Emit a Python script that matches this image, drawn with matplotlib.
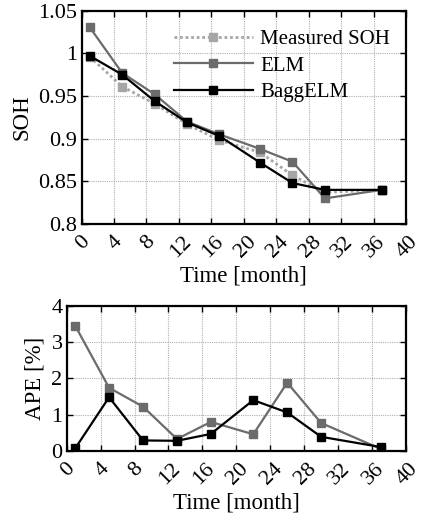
import matplotlib
matplotlib.use("Agg")
import matplotlib.pyplot as plt
import matplotlib.transforms as mtransforms
import numpy as np

plt.rcParams['font.family'] = ['Liberation Serif', 'DejaVu Serif']
plt.rcParams['mathtext.fontset'] = 'stix'

time = [1, 5, 9, 13, 17, 22, 26, 30, 37]
soh_measured = [0.996, 0.961, 0.941, 0.917, 0.898, 0.884, 0.857, 0.837, 0.840]
soh_elm = [1.0305, 0.977, 0.952, 0.920, 0.905, 0.888, 0.873, 0.830, 0.840]
soh_bagg = [0.997, 0.975, 0.944, 0.919, 0.903, 0.872, 0.848, 0.840, 0.840]
ape_elm = [3.45, 1.74, 1.22, 0.33, 0.80, 0.46, 1.88, 0.77, 0.06]
ape_bagg = [0.07, 1.48, 0.29, 0.28, 0.47, 1.40, 1.06, 0.39, 0.11]
xticks = [0, 4, 8, 12, 16, 20, 24, 28, 32, 36, 40]
soh_ticks = [0.8, 0.85, 0.9, 0.95, 1.0, 1.05]
soh_ticklabels = ['0.8', '0.85', '0.9', '0.95', '1', '1.05']
ape_ticks = [0, 1, 2, 3, 4]

c_meas = '#a6a6a6'
c_elm = '#6b6b6b'
c_bagg = '#000000'
fs_tick = 16
fs_lab = 16.5
fs_leg = 15

fig = plt.figure(figsize=(4.22, 5.17), dpi=100)
ax1 = fig.add_axes([0.1934, 0.5667, 0.7687, 0.4128])
ax2 = fig.add_axes([0.158, 0.1277, 0.804, 0.281])

def style(ax):
    for s in ax.spines.values():
        s.set_linewidth(1.6)
    ax.grid(True, color='#b0b0b0', linestyle=(0, (1, 1)), linewidth=0.8)
    ax.tick_params(direction='in', length=4, width=1, top=True, right=True,
                   labelsize=fs_tick, pad=3)
    ax.tick_params(axis='x', pad=6)
    ax.set_xlim(0, 40)
    ax.set_xticks(xticks)
    ax.set_xticklabels([str(t) for t in xticks], rotation=45, ha='center',
                       va='top')
    ax.set_xlabel('Time [month]', fontsize=fs_lab, labelpad=3)

ms = 6
ax1.plot(time, soh_measured, color=c_meas, linestyle=(0, (1, 1)), linewidth=2,
         marker='s', markersize=ms, label='Measured SOH', zorder=3)
ax1.plot(time, soh_elm, color=c_elm, linewidth=1.6, marker='s', markersize=ms,
         label='ELM', zorder=4)
ax1.plot(time, soh_bagg, color=c_bagg, linewidth=1.6, marker='s', markersize=ms,
         label='BaggELM', zorder=5)
style(ax1)
ax1.set_ylim(0.8, 1.05)
ax1.set_yticks(soh_ticks)
ax1.set_yticklabels(soh_ticklabels)
ax1.set_ylabel('SOH', fontsize=fs_lab, labelpad=4)
leg = ax1.legend(loc='upper right', frameon=False, fontsize=fs_leg, handlelength=3.8,
                 handletextpad=0.35, borderaxespad=0.0, labelspacing=0.33,
                 bbox_to_anchor=(0.977, 0.95))

ax2.plot(time, ape_elm, color=c_elm, linewidth=1.6, marker='s', markersize=ms, zorder=4)
ax2.plot(time, ape_bagg, color=c_bagg, linewidth=1.6, marker='s', markersize=ms, zorder=5)
style(ax2)
ax2.set_ylim(0, 4)
ax2.set_yticks(ape_ticks)
ax2.set_ylabel('APE [%]', fontsize=fs_lab, labelpad=4)

shift = mtransforms.ScaledTranslation(1.5 / 100, 0, fig.dpi_scale_trans)
for ax in (ax1, ax2):
    for lab in ax.get_xticklabels():
        lab.set_transform(lab.get_transform() + shift)

fig.savefig('out.png', dpi=100)
